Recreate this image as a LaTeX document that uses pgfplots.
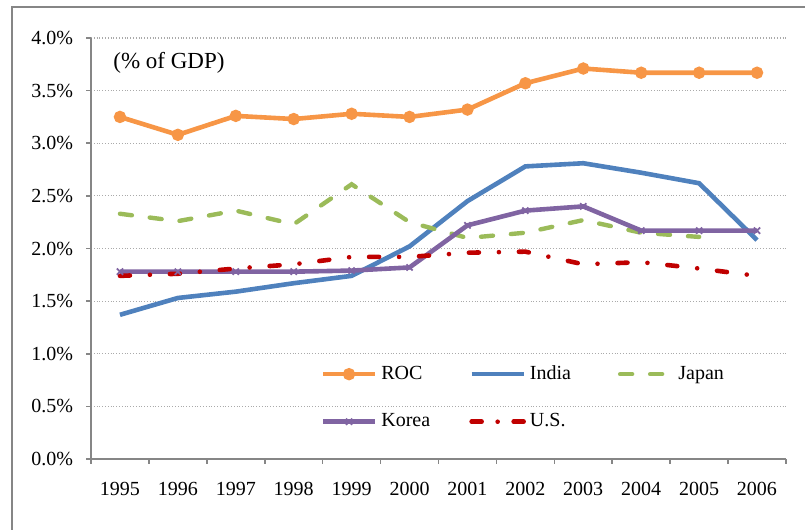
\documentclass[border=0pt]{standalone}
\usepackage{fontspec}
\setmainfont{Liberation Serif}
\usepackage{pgfplots}
\pgfplotsset{compat=1.18}

\definecolor{rocc}{HTML}{F79646}
\definecolor{indiac}{HTML}{4F81BD}
\definecolor{japanc}{HTML}{9BBB59}
\definecolor{koreac}{HTML}{8064A2}
\definecolor{usc}{HTML}{C00000}
\definecolor{axisgray}{HTML}{868686}

\begin{document}
\begin{tikzpicture}
\path[use as bounding box] (-45.5pt,-35.5pt) rectangle (357pt,229.5pt);
\draw[axisgray, line width=0.8pt] (-39.5pt,-40pt) -- (-39.5pt,226pt) -- (360pt,226pt);
\begin{axis}[
  at={(0pt,0pt)}, anchor=south west,
  scale only axis,
  width=347.5pt, height=210.5pt,
  xmin=1994.5, xmax=2006.5,
  ymin=0, ymax=4,
  axis x line=bottom, axis y line=left,
  axis line style={axisgray, line width=0.9pt, -},
  every tick/.style={axisgray, line width=0.8pt},
  tick align=outside,
  xtick={1995,...,2006},
  major x tick style={draw=none},
  minor xtick={1994.5,1995.5,...,2006.5},
  minor tick length=2.5pt,
  major tick length=2.5pt,
  ytick={0,0.5,...,4},
  ymajorgrids,
  grid style={axisgray!70, densely dotted, line width=0.6pt},
  /pgf/number format/assume math mode=true,
  xticklabel style={font=\fontsize{10}{12}\selectfont, /pgf/number format/1000 sep=, yshift=-5.5pt},
  yticklabel={\pgfmathprintnumber[fixed,fixed zerofill,precision=1]{\tick}\%},
  yticklabel style={font=\fontsize{10}{12}\selectfont, xshift=-3pt},
  legend image code/.code={\draw[mark repeat=2,mark phase=2,#1] plot coordinates {(0pt,0pt) (13pt,0pt) (26pt,0pt)};},
  legend columns=3,
  legend style={draw=none, fill=none, inner sep=0pt,
    at={(rel axis cs:0.33,0.232)}, anchor=north west,
    font=\fontsize{10}{12}\selectfont,
    row sep=11.5pt,
    /tikz/every even column/.append style={column sep=16pt}},
  legend cell align=left,
]
\addplot[rocc, line width=2.3pt, mark=*, mark size=1.9pt] coordinates {
(1995,3.25) (1996,3.08) (1997,3.26) (1998,3.23) (1999,3.28) (2000,3.25)
(2001,3.32) (2002,3.57) (2003,3.71) (2004,3.67) (2005,3.67) (2006,3.67)};
\addlegendentry{\makebox[26pt][l]{ROC}}
\addplot[indiac, line width=2.3pt] coordinates {
(1995,1.37) (1996,1.53) (1997,1.59) (1998,1.67) (1999,1.74) (2000,2.02)
(2001,2.45) (2002,2.78) (2003,2.81) (2004,2.72) (2005,2.62) (2006,2.08)};
\addlegendentry{\makebox[26pt][l]{India}}
\addplot[japanc, line width=2.2pt, line cap=round, dash pattern=on 6pt off 9pt] coordinates {
(1995,2.33) (1996,2.26) (1997,2.36) (1998,2.23) (1999,2.61) (2000,2.25)
(2001,2.10) (2002,2.15) (2003,2.27) (2004,2.15) (2005,2.11)};
\addlegendentry{\makebox[26pt][l]{Japan}}
\addplot[koreac, line width=2.3pt, mark=x, mark size=2.2pt, mark options={line width=0.9pt, solid}] coordinates {
(1995,1.78) (1996,1.78) (1997,1.78) (1998,1.78) (1999,1.79) (2000,1.82)
(2001,2.22) (2002,2.36) (2003,2.40) (2004,2.17) (2005,2.17) (2006,2.17)};
\addlegendentry{\makebox[26pt][l]{Korea}}
\addplot[usc, line width=2.3pt, line cap=round, dash pattern=on 5pt off 10pt on 0pt off 10pt,
  legend image post style={dash pattern=on 5pt off 8pt on 0pt off 8pt}] coordinates {
(1995,1.74) (1996,1.76) (1997,1.81) (1998,1.85) (1999,1.92) (2000,1.92)
(2001,1.96) (2002,1.97) (2003,1.85) (2004,1.87) (2005,1.81) (2006,1.74)};
\addlegendentry{\makebox[26pt][l]{U.S.}}
\node[anchor=west, font=\fontsize{11.5}{13}\selectfont] at (rel axis cs:0.022,0.94) {(\% of GDP)};
\end{axis}
\end{tikzpicture}
\end{document}
